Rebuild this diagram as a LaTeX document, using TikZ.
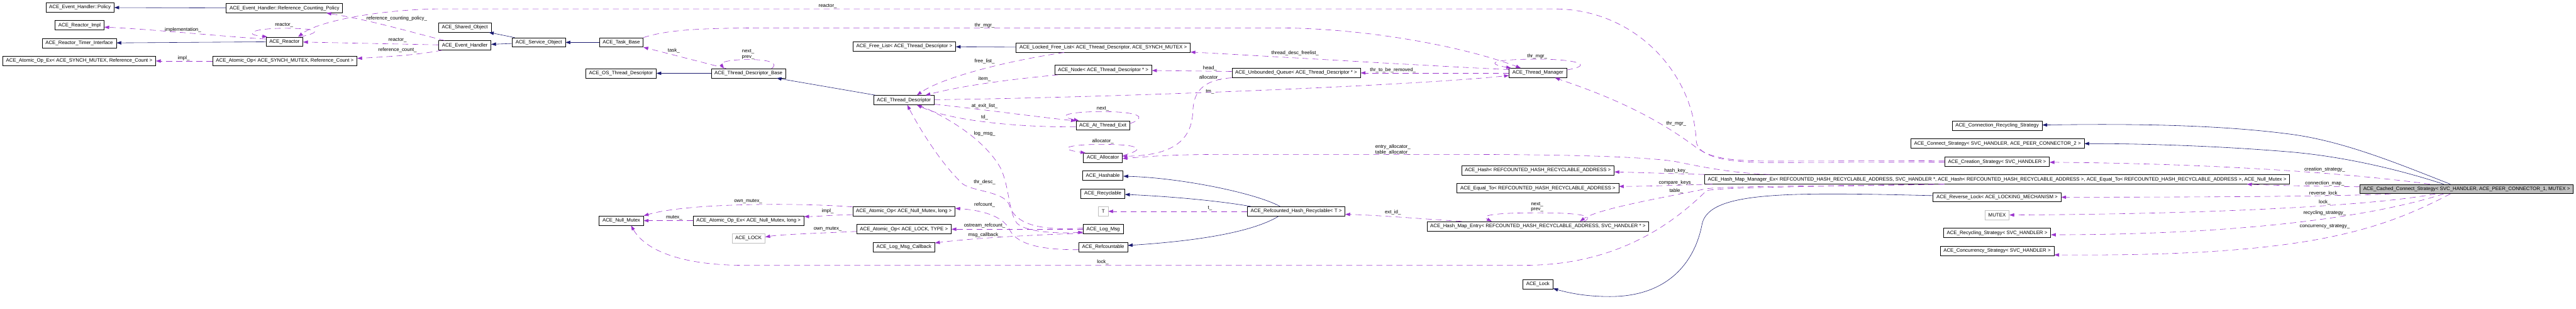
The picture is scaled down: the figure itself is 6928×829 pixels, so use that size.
\documentclass[tikz,border=0pt]{standalone}
\usepackage{fontspec}
\setmainfont{Liberation Sans}
\usetikzlibrary{arrows.meta}
\definecolor{inhcol}{HTML}{191970}
\definecolor{usecol}{HTML}{9A32CD}
\definecolor{greyline}{HTML}{BFBFBF}

\begin{document}
\begin{tikzpicture}[
    x=1pt, y=-1pt,
    every node/.style={font=\fontsize{13.3}{15}\selectfont},
    box/.style={draw, line width=1.1pt, minimum height=25pt, inner xsep=9pt, inner ysep=0pt},
    ghost/.style={box, draw=greyline},
    focus/.style={box, fill=greyline},
    inherit/.style={draw=inhcol, line width=1pt, -{Triangle[length=13pt,width=9pt]}},
    usage/.style={draw=usecol, line width=1pt, dash pattern=on 16pt off 11pt, -{Triangle[length=13pt,width=9pt]}},
    edgelbl/.style={inner sep=0pt, align=center}
]
\useasboundingbox (0,0) rectangle (6928,829);

\node[box] (policy) at (215,20) {ACE\_Event\_Handler::Policy};
\node[box] (rcpolicy) at (765,22) {ACE\_Event\_Handler::Reference\_Counting\_Policy};
\node[box] (reactorimpl) at (214,68) {ACE\_Reactor\_Impl};
\node[box] (timer) at (213,116) {ACE\_Reactor\_Timer\_Interface};
\node[box] (reactor) at (765,112) {ACE\_Reactor};
\node[box] (aoexsynch) at (213,164) {ACE\_Atomic\_Op\_Ex< ACE\_SYNCH\_MUTEX, Reference\_Count >};
\node[box] (aosynch) at (766,164) {ACE\_Atomic\_Op< ACE\_SYNCH\_MUTEX, Reference\_Count >};
\node[box] (shared) at (1250,74) {ACE\_Shared\_Object};
\node[box] (evh) at (1250,122) {ACE\_Event\_Handler};
\node[box] (svcobj) at (1449,114) {ACE\_Service\_Object};
\node[box] (taskbase) at (1671,114) {ACE\_Task\_Base};
\node[box] (ostd) at (1670,197) {ACE\_OS\_Thread\_Descriptor};
\node[box] (tdbase) at (2013,197) {ACE\_Thread\_Descriptor\_Base};
\node[box] (nullmutex) at (1671,593) {ACE\_Null\_Mutex};
\node[box] (aoexnull) at (2013,593) {ACE\_Atomic\_Op\_Ex< ACE\_Null\_Mutex, long >};
\node[ghost] (acelockg) at (2013,641) {ACE\_LOCK};
\node[box] (freelist) at (2432,125) {ACE\_Free\_List< ACE\_Thread\_Descriptor >};
\node[box] (td) at (2431,269) {ACE\_Thread\_Descriptor};
\node[box] (aonull) at (2431,568) {ACE\_Atomic\_Op< ACE\_Null\_Mutex, long >};
\node[box] (aolock) at (2431,616) {ACE\_Atomic\_Op< ACE\_LOCK, TYPE >};
\node[box] (callback) at (2431,664) {ACE\_Log\_Msg\_Callback};
\node[box] (lfl) at (2967,128) {ACE\_Locked\_Free\_List< ACE\_Thread\_Descriptor, ACE\_SYNCH\_MUTEX >};
\node[box] (tdnode) at (2967,188) {ACE\_Node< ACE\_Thread\_Descriptor * >};
\node[box] (atexit) at (2966,337) {ACE\_At\_Thread\_Exit};
\node[box] (allocator) at (2966,424) {ACE\_Allocator};
\node[box] (hashable) at (2966,472) {ACE\_Hashable};
\node[box] (recyclable) at (2966,520) {ACE\_Recyclable};
\node[ghost] (tparam) at (2967,568) {T};
\node[box] (logmsg) at (2967,616) {ACE\_Log\_Msg};
\node[box] (refcountable) at (2967,664) {ACE\_Refcountable};
\node[box] (queue) at (3486,196) {ACE\_Unbounded\_Queue< ACE\_Thread\_Descriptor * >};
\node[box] (rhr) at (3486,568) {ACE\_Refcounted\_Hash\_Recyclable< T >};
\node[box] (thrmgr) at (4136,196) {ACE\_Thread\_Manager};
\node[box] (hash) at (4136,458) {ACE\_Hash< REFCOUNTED\_HASH\_RECYCLABLE\_ADDRESS >};
\node[box] (equal) at (4136,506) {ACE\_Equal\_To< REFCOUNTED\_HASH\_RECYCLABLE\_ADDRESS >};
\node[box] (entry) at (4136,608) {ACE\_Hash\_Map\_Entry< REFCOUNTED\_HASH\_RECYCLABLE\_ADDRESS, SVC\_HANDLER * >};
\node[box] (acelock) at (4136,764) {ACE\_Lock};
\node[box] (connrecyc) at (5371,338) {ACE\_Connection\_Recycling\_Strategy};
\node[box] (connect) at (5372,386) {ACE\_Connect\_Strategy< SVC\_HANDLER, ACE\_PEER\_CONNECTOR\_2 >};
\node[box] (creation) at (5371,435) {ACE\_Creation\_Strategy< SVC\_HANDLER >};
\node[box] (mapmgr) at (5371,482) {ACE\_Hash\_Map\_Manager\_Ex< REFCOUNTED\_HASH\_RECYCLABLE\_ADDRESS, SVC\_HANDLER *, ACE\_Hash< REFCOUNTED\_HASH\_RECYCLABLE\_ADDRESS >, ACE\_Equal\_To< REFCOUNTED\_HASH\_RECYCLABLE\_ADDRESS >, ACE\_Null\_Mutex >};
\node[box] (revlock) at (5371,530) {ACE\_Reverse\_Lock< ACE\_LOCKING\_MECHANISM >};
\node[ghost] (mutex) at (5371,578) {MUTEX};
\node[box] (recycling) at (5371,626) {ACE\_Recycling\_Strategy< SVC\_HANDLER >};
\node[box] (concurrency) at (5371,674) {ACE\_Concurrency\_Strategy< SVC\_HANDLER >};
\node[focus] (cached) at (6634,508) {ACE\_Cached\_Connect\_Strategy< SVC\_HANDLER, ACE\_PEER\_CONNECTOR\_1, MUTEX >};

\node[edgelbl] (l-impl) at (492,81) {implementation\_};
\node[edgelbl] (l-reactorself) at (764,68) {reactor\_};
\node[edgelbl] (l-rcpolicy) at (1067,49) {reference\_counting\_policy\_};
\node[edgelbl] (l-reactor) at (1069,108) {reactor\_};
\node[edgelbl] (l-refcount) at (1069,135) {reference\_count\_};
\node[edgelbl] (l-implsynch) at (494,156) {impl\_};
\node[edgelbl] (l-reactortop) at (2226,17) {reactor\_};
\node[edgelbl] (l-task) at (1812,136) {task\_};
\node[edgelbl] (l-tdlinks) at (2012,146) {next\_\\prev\_};
\node[edgelbl] (l-thrmgrtask) at (2648,68) {thr\_mgr\_};
\node[edgelbl] (l-freelist) at (2648,164) {free\_list\_};
\node[edgelbl] (l-item) at (2648,213) {item\_};
\node[edgelbl] (l-atexit) at (2648,285) {at\_exit\_list\_};
\node[edgelbl] (l-td) at (2648,316) {td\_};
\node[edgelbl] (l-logmsg) at (2648,359) {log\_msg\_};
\node[edgelbl] (l-exitnext) at (2966,293) {next\_};
\node[edgelbl] (l-allocself) at (2966,380) {allocator\_};
\node[edgelbl] (l-head) at (3254,184) {head\_};
\node[edgelbl] (l-allocq) at (3254,208) {allocator\_};
\node[edgelbl] (l-tm) at (3254,247) {tm\_};
\node[edgelbl] (l-descfree) at (3483,143) {thread\_desc\_freelist\_};
\node[edgelbl] (l-thrdesc) at (2648,489) {thr\_desc\_};
\node[edgelbl] (l-refcnt) at (2648,551) {refcount\_};
\node[edgelbl] (l-ostream) at (2648,607) {ostream\_refcount\_};
\node[edgelbl] (l-callback) at (2648,631) {msg\_callback\_};
\node[edgelbl] (l-t) at (3254,559) {t\_};
\node[edgelbl] (l-lockmap) at (2966,704) {lock\_};
\node[edgelbl] (l-ownnull) at (2012,540) {own\_mutex\_};
\node[edgelbl] (l-mutex) at (1813,584) {mutex\_};
\node[edgelbl] (l-implnull) at (2226,567) {impl\_};
\node[edgelbl] (l-ownlock) at (2226,615) {own\_mutex\_};
\node[edgelbl] (l-thrmgrself) at (4134,152) {thr\_mgr\_};
\node[edgelbl] (l-removed) at (3746,188) {thr\_to\_be\_removed\_};
\node[edgelbl] (l-thrmgrcreate) at (4508,333) {thr\_mgr\_};
\node[edgelbl] (l-allocmap) at (3746,402) {entry\_allocator\_\\table\_allocator\_};
\node[edgelbl] (l-hashkey) at (4508,459) {hash\_key\_};
\node[edgelbl] (l-compare) at (4508,492) {compare\_keys\_};
\node[edgelbl] (l-table) at (4508,513) {table\_};
\node[edgelbl] (l-entrylinks) at (4134,556) {next\_\\prev\_};
\node[edgelbl] (l-extid) at (3746,571) {ext\_id\_};
\node[edgelbl] (l-creation) at (6252,455) {creation\_strategy\_};
\node[edgelbl] (l-connmap) at (6252,493) {connection\_map\_};
\node[edgelbl] (l-revlock) at (6252,520) {reverse\_lock\_};
\node[edgelbl] (l-lock) at (6252,543) {lock\_};
\node[edgelbl] (l-recycling) at (6252,572) {recycling\_strategy\_};
\node[edgelbl] (l-concurrency) at (6252,608) {concurrency\_strategy\_};

\draw[inherit] (rcpolicy) -- (policy);
\draw[inherit] (reactor) -- (timer);
\draw[inherit] (svcobj) -- (shared);
\draw[inherit] (svcobj) -- (evh);
\draw[inherit] (taskbase) -- (svcobj);
\draw[inherit] (tdbase) -- (ostd);
\draw[inherit] (td) -- (tdbase);
\draw[inherit] (lfl) -- (freelist);
\draw[inherit] ([xshift=-43pt]rhr.north) .. controls (3380,520) and (3180,478) .. (hashable);
\draw[inherit] ([xshift=-121pt]rhr.north) .. controls (3280,540) and (3150,528) .. (recyclable);
\draw[inherit] ([xshift=-47pt]rhr.south) .. controls (3350,635) and (3150,652) .. (refcountable);
\draw[inherit] (revlock) .. controls (4800,516) and (4600,515) .. (4578,600) .. controls (4560,700) and (4490,797) .. (4330,797) .. controls (4260,797) and (4215,786) .. (acelock);
\draw[inherit] ([xshift=-44pt]cached.north) .. controls (6450,440) and (6300,378) .. (6155,360) .. controls (6000,340) and (5800,331) .. (connrecyc);
\draw[inherit] ([xshift=-62pt]cached.north) .. controls (6450,455) and (6300,420) .. (6155,408) .. controls (6000,395) and (5800,386) .. (connect);

\draw[usage] ([yshift=7pt]reactor.west) .. controls (600,98) and (400,78) .. ([yshift=-5pt]reactorimpl.east);
\draw[usage] ([xshift=-8pt]reactor.north east) .. controls (875,85) and (850,76) .. (765,76) .. controls (680,76) and (650,92) .. ([xshift=4pt]reactor.north west);
\draw[usage] ([xshift=17pt]evh.north west) .. controls (1100,85) and (1000,55) .. ([xshift=-44pt]rcpolicy.south east);
\draw[usage] (evh) -- (reactor);
\draw[usage] ([xshift=10pt]evh.south west) .. controls (1120,148) and (1050,152) .. ([yshift=7pt]aosynch.east);
\draw[usage] (aosynch) -- (aoexsynch);
\draw[usage] (creation) -- (4760,437) .. controls (4640,437) and (4566,420) .. (4562,380) .. controls (4555,200) and (4400,24) .. (4180,24) -- (1170,24) .. controls (1000,28) and (850,60) .. ([xshift=37pt]reactor.north);
\draw[usage] (taskbase.north east) .. controls (1800,78) and (1900,75) .. (2100,75) -- (3450,75) .. controls (3700,78) and (3950,130) .. ([xshift=-46pt]thrmgr.north);
\draw[usage] ([xshift=-60pt]tdbase.north) -- (taskbase.south east);
\draw[usage] ([xshift=62pt]tdbase.north) .. controls (2095,170) and (2070,160) .. (2013,160) .. controls (1960,160) and (1935,168) .. ([xshift=-66pt]tdbase.north);
\draw[usage] ([xshift=-105pt]lfl.south) .. controls (2700,165) and (2530,210) .. ([xshift=35pt]td.north);
\draw[usage] ([xshift=10pt]tdnode.south west) .. controls (2700,215) and (2580,232) .. ([xshift=58pt]td.north);
\draw[usage] ([yshift=-11pt]td.east) .. controls (2650,295) and (2780,313) .. ([yshift=12pt]atexit.west);
\draw[usage] ([yshift=-4pt]atexit.west) .. controls (2720,342) and (2550,322) .. ([xshift=35pt]td.south);
\draw[usage] ([yshift=5pt]atexit.east) .. controls (3090,315) and (3060,300) .. (2966,300) .. controls (2870,300) and (2840,312) .. ([xshift=8pt]atexit.north west);
\draw[usage] ([yshift=6pt]allocator.east) .. controls (3090,400) and (3060,388) .. (2966,388) .. controls (2870,388) and (2840,400) .. ([xshift=6pt]allocator.north west);
\draw[usage] ([yshift=3pt]logmsg.west) .. controls (2800,620) and (2730,605) .. (2714,550) .. controls (2700,515) and (2620,515) .. (2590,495) .. controls (2530,440) and (2470,340) .. ([xshift=9pt]td.south);
\draw[usage] ([xshift=39pt]td.south) .. controls (2560,320) and (2650,380) .. (2690,450) .. controls (2715,500) and (2712,570) .. (2735,600) .. controls (2760,625) and (2850,628) .. ([yshift=-8pt]logmsg.west);
\draw[usage] (logmsg) -- (aolock);
\draw[usage] ([yshift=-11pt]logmsg.west) .. controls (2750,632) and (2600,642) .. ([yshift=11pt]callback.east);
\draw[usage] ([yshift=-7pt]refcountable.west) .. controls (2780,672) and (2730,650) .. (2714,615) .. controls (2695,580) and (2640,565) .. ([yshift=8pt]aonull.east);
\draw[usage] (rhr) -- (tparam);
\draw[usage] ([yshift=4pt]queue.west) -- (tdnode);
\draw[usage] (queue.south west) .. controls (3230,215) and (3210,250) .. (3208,300) .. controls (3205,380) and (3150,418) .. ([yshift=4pt]allocator.east);
\draw[usage] (td) .. controls (3000,262) and (3800,230) .. ([yshift=-7pt]thrmgr.west);
\draw[usage] ([yshift=9pt]thrmgr.west) .. controls (3800,175) and (3400,150) .. ([yshift=-12pt]lfl.east);
\draw[usage] (thrmgr) -- (queue);
\draw[usage] ([yshift=8pt]thrmgr.east) .. controls (4290,175) and (4240,159) .. (4134,159) .. controls (4020,159) and (3990,170) .. ([xshift=6pt]thrmgr.north west);
\draw[usage] ([yshift=3pt]creation.west) -- (4770,433) .. controls (4650,433) and (4600,425) .. (4560,395) .. controls (4420,290) and (4270,240) .. ([xshift=46pt]thrmgr.south);
\draw[usage] ([yshift=-9pt]aonull.west) .. controls (2230,578) and (2200,582) .. ([yshift=11pt]aoexnull.east);
\draw[usage] (aoexnull) -- (nullmutex);
\draw[usage] ([yshift=12pt]aonull.west) .. controls (2150,545) and (1850,545) .. (nullmutex.north east);
\draw[usage] ([yshift=-6pt]aolock.west) .. controls (2200,627) and (2100,630) .. ([yshift=4pt]acelockg.east);
\draw[usage] ([xshift=-612pt]mapmgr.north) .. controls (4650,465) and (4560,445) .. (4500,433) .. controls (4400,420) and (4200,415) .. (3900,415) -- (3300,415) .. controls (3150,415) and (3100,420) .. ([yshift=-2pt]allocator.east);
\draw[usage] (mapmgr.north west) -- ([yshift=-4pt]hash.east);
\draw[usage] ([xshift=22pt]mapmgr.south west) .. controls (4500,498) and (4420,501) .. ([yshift=5pt]equal.east);
\draw[usage] ([xshift=-142pt]mapmgr.south) .. controls (4900,500) and (4650,500) .. (4590,507) .. controls (4480,530) and (4300,560) .. ([xshift=113pt]entry.north);
\draw[usage] ([xshift=-142pt]mapmgr.south) .. controls (4900,502) and (4650,502) .. (4590,512) .. controls (4500,600) and (4350,713) .. (4100,713) -- (2000,713) .. controls (1850,713) and (1740,680) .. ([xshift=26pt]nullmutex.south);
\draw[usage] ([xshift=125pt]entry.north) .. controls (4290,580) and (4250,572) .. (4134,572) .. controls (4010,572) and (3980,580) .. ([xshift=-124pt]entry.north);
\draw[usage] ([xshift=-205pt]entry.north) .. controls (3850,590) and (3700,578) .. ([yshift=-8pt]rhr.east);
\draw[usage] ([xshift=-99pt]cached.north) .. controls (6350,470) and (6000,440) .. (creation);
\draw[usage] ([yshift=6pt]cached.west) .. controls (6200,500) and (6100,498) .. ([xshift=672pt]mapmgr.south);
\draw[usage] ([xshift=-204pt]cached.south) .. controls (6300,528) and (5900,530) .. (revlock);
\draw[usage] ([xshift=-84pt]cached.south) .. controls (6400,550) and (6000,575) .. (mutex);
\draw[usage] ([xshift=-62pt]cached.south) .. controls (6420,570) and (6100,630) .. ([yshift=-5pt]recycling.east);
\draw[usage] ([xshift=-44pt]cached.south) .. controls (6400,620) and (6200,690) .. ([yshift=-11pt]concurrency.east);
\end{tikzpicture}
\end{document}
